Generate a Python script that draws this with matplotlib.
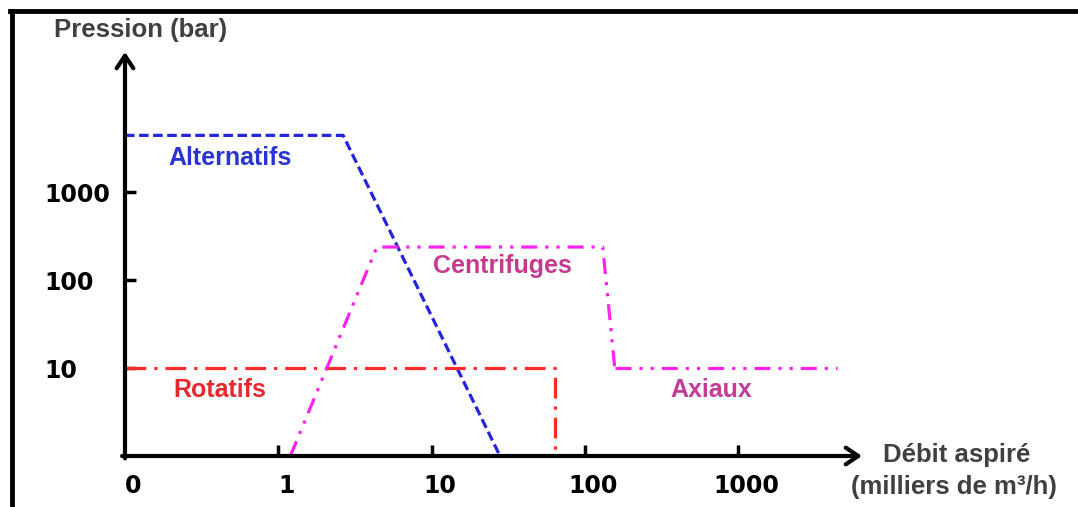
import numpy as np
import matplotlib.pyplot as plt
from matplotlib.lines import Line2D
from matplotlib.transforms import ScaledTranslation

# data (debit in milliers de m3/h, pression in bar), log axes
x_ticks = [0.1, 1, 10, 100, 1000]
x_tick_labels = ['0', '1', '10', '100', '1000']
y_ticks = [10, 100, 1000]
y_tick_labels = ['10', '100', '1000']

alt_x = [0.1, 2.65, 28]
alt_y = [4400, 4400, 1]

rot_x = [0.1, 64, 64]
rot_y = [10, 10, 1]

cen_x = [1.2, 4.4, 131, 157]
cen_y = [1, 237, 237, 10]

axi_x = [157, 4400]
axi_y = [10, 10]

W, H = 1078, 507
fig = plt.figure(figsize=(W / 100, H / 100), dpi=100)
ax = fig.add_axes([125 / W, (H - 456) / H, (862 - 125) / W, (456 - 52) / H])
ax.set_xscale('log')
ax.set_yscale('log')
ax.set_xlim(0.1, 10 ** (-1 + (862 - 125) / 153.25))
ax.set_ylim(1, 10 ** ((456 - 52) / 88))


def px_x(p):
    # helper: data x for a horizontal pixel position (label placement only)
    return 0.1 * 10 ** ((p - 125) / 153.25)


def px_y(p):
    return 10 ** ((456 - p) / 88)


# lines
dashdotdot = (0, (5, 2.5, 1, 2.5, 1, 2.5))
ax.plot(alt_x, alt_y, color='#2424dd', lw=2.3, linestyle=(0, (3, 1.4)), clip_on=False)
ax.plot(rot_x, rot_y, color='#ff2a2a', lw=2.3, linestyle=(0, (6.5, 2.5, 1, 2.5)), clip_on=False)
ax.plot(cen_x, cen_y, color='#ff22ee', lw=2.3, linestyle=dashdotdot, clip_on=False)
ax.plot(axi_x, axi_y, color='#ff22ee', lw=2.3, linestyle=dashdotdot, clip_on=False)

# labels on the chart
lab = dict(fontsize=18, fontweight='bold', family='Liberation Sans', va='center')
ax.text(px_x(168), px_y(158), 'Alternatifs', color='#2a34d4', **lab)
ax.text(px_x(433), px_y(266), 'Centrifuges', color='#c63a8e', **lab)
ax.text(px_x(173), px_y(390), 'Rotatifs', color='#e8282c', **lab)
ax.text(px_x(670), px_y(390), 'Axiaux', color='#c23c98', **lab)

# axes as arrows
for s in ax.spines.values():
    s.set_visible(False)
arrow = dict(arrowstyle='->, head_length=0.9, head_width=0.6', lw=3, color='black',
             shrinkA=0, shrinkB=0)
ax.annotate('', xy=(1, 0), xytext=(-0.004, 0), xycoords='axes fraction', arrowprops=arrow)
ax.annotate('', xy=(0, 1), xytext=(0, -0.006), xycoords='axes fraction', arrowprops=arrow)

ax.minorticks_off()
ax.set_xticks(x_ticks)
ax.set_xticklabels(x_tick_labels)
ax.set_yticks(y_ticks)
ax.set_yticklabels(y_tick_labels, ha='left')
ax.tick_params(direction='in', length=8, width=2.5, labelsize=17)
ax.tick_params(axis='y', pad=58)
ax.tick_params(axis='x', pad=13)
shift = ScaledTranslation(8 / 100, 0, fig.dpi_scale_trans)
for t in ax.get_xticklabels():
    t.set_transform(t.get_transform() + shift)
for t in ax.get_xticklabels() + ax.get_yticklabels():
    t.set_fontweight('bold')
ax.xaxis.get_major_ticks()[0].tick1line.set_visible(False)

# axis titles
title = dict(ha='center', va='center', fontsize=18.5, fontweight='bold',
             family='Liberation Sans', color='#404040')
fig.text(141 / W, 1 - 30 / H, 'Pression (bar)', **title)
fig.text(957 / W, 1 - 455 / H, 'Débit aspiré', **title)
fig.text(954 / W, 1 - 487 / H, '(milliers de m³/h)', **title)

# frame
fig.add_artist(Line2D([10 / W, 1], [1 - 11 / H, 1 - 11 / H], color='black', lw=3.5, transform=fig.transFigure))
fig.add_artist(Line2D([12 / W, 12 / W], [0, 1 - 11 / H], color='black', lw=3.5, transform=fig.transFigure))

fig.savefig('out.png', dpi=100)
